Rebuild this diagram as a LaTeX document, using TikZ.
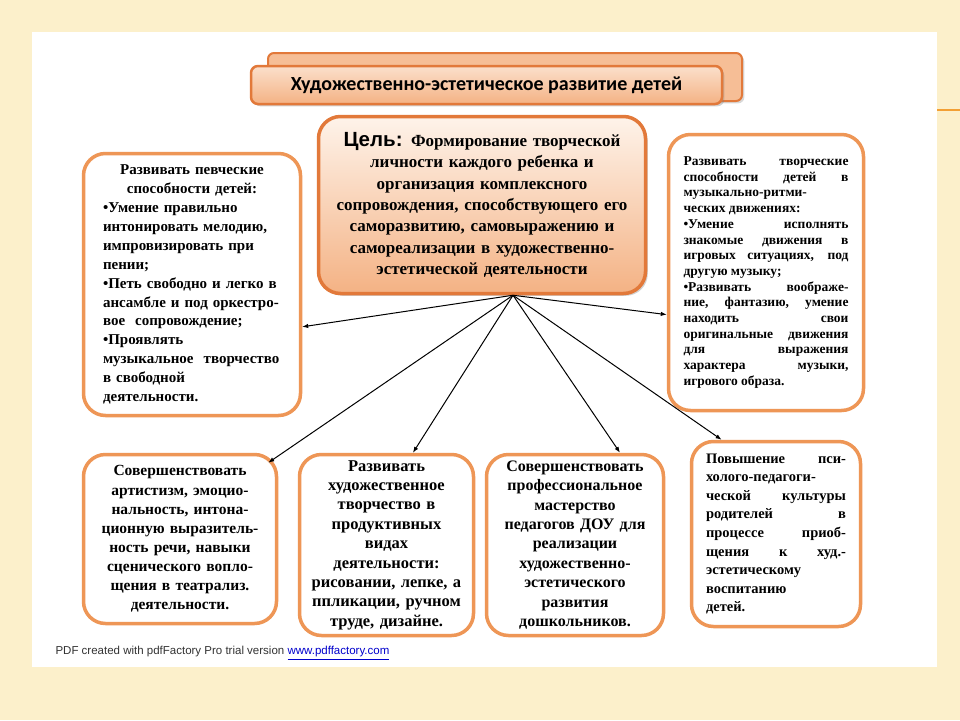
\documentclass[tikz,border=0pt]{standalone}
\usepackage{fontspec}
\setmainfont{Liberation Serif}
\newfontfamily\headfont{Carlito}
\newfontfamily\sansfont{Liberation Sans}
\usepackage{xcolor}
\usepackage{tikz}
\usetikzlibrary{positioning, arrows.meta, shadows}
\definecolor{slidebg}{RGB}{252,240,203}
\definecolor{boxorange}{RGB}{238,150,86}
\definecolor{darkorange}{RGB}{226,121,58}
\definecolor{peachlight}{RGB}{254,243,234}
\definecolor{peach}{RGB}{244,178,132}
\definecolor{linkblue}{RGB}{0,0,204}
\definecolor{lineorange}{RGB}{243,160,52}
\tikzstyle{tback}=[%
      rectangle, rounded corners=6pt, draw=darkorange, line width=2pt, fill=peach!85!white,
      drop shadow={opacity=.3}, minimum height=48pt, minimum width=474pt, inner sep=0pt
]
\tikzstyle{tb}=[%
      rectangle, rounded corners=7pt, draw=darkorange, line width=2.5pt,
      top color=peachlight!70!peach, bottom color=peach, drop shadow={opacity=.35},
      minimum height=38pt, minimum width=471pt, inner sep=0pt,
      font=\headfont\bfseries\fontsize{20}{24}\selectfont
]
\tikzstyle{gl}=[%
      rectangle, rounded corners=22pt, draw=darkorange, line width=3.5pt,
      top color=peachlight, bottom color=peach, drop shadow={opacity=.35},
      minimum height=177pt, minimum width=327pt, text width=320pt, align=center, inner sep=0pt,
      font=\bfseries\fontsize{17}{21.3}\selectfont
]
\tikzstyle{en}=[%
      rectangle, rounded corners=22pt, draw=boxorange, line width=3.5pt, fill=white,
      inner sep=0pt, font=\bfseries
]
\begin{document}
\begin{tikzpicture}[x=1pt, y=-1pt,
    -{Latex[length=6pt,width=4.5pt]}
  ]
    \useasboundingbox (0,0) rectangle (960,720);
    \fill[slidebg] (0,0) rectangle (960,720);
    \fill[white] (32,32) rectangle (937,667);
    \draw[-, lineorange, line width=2.5pt] (937,110) -- (960,110);

    \node[tback] (back)  at (505,77)   {};
    \node[tb]    (title) at (486.5,85) {Художественно-эстетическое развитие детей};
    \node[gl]    (goal)  at (482,205)  {%
      {\sansfont\fontsize{20.5}{21.3}\selectfont Цель:} Формирование творческой\\
      личности каждого ребенка и\\
      организация комплексного\\
      сопровождения, способствующего его\\
      саморазвитию, самовыражению и\\
      самореализации в художественно-\\
      эстетической деятельности};

    \node[en, minimum width=217pt, minimum height=262pt, text width=178pt, align=left,
          font=\bfseries\fontsize{15}{18.9}\selectfont] (lbox) at (192,284.5) {%
      {\centering Развивать певческие\\ способности детей:\par}
      •Умение правильно\\
      интонировать мелодию,\\
      импровизировать при\\
      пении;\\
      •Петь свободно и легко в\\
      ансамбле и под оркестро-\\
      вое\ \ сопровождение;\\
      •Проявлять\\
      музыкальное\ \ творчество\\
      в свободной\\
      деятельности.};

    \node[en, minimum width=195pt, minimum height=276pt, text width=165pt, align=justify,
          font=\bfseries\fontsize{13.5}{15.7}\selectfont] (rbox) at (766,272.5) {%
      Развивать творческие\linebreak
      способности детей в\linebreak
      музыкально-ритми-\\
      ческих движениях:\\
      •Умение исполнять\linebreak
      знакомые движения в\linebreak
      игровых ситуациях, под\linebreak
      другую музыку;\\
      •Развивать воображе-\linebreak
      ние, фантазию, умение\linebreak
      находить свои\linebreak
      оригинальные движения\linebreak
      для выражения\linebreak
      характера музыки,\linebreak
      игрового образа.};

    \node[en, minimum width=193pt, minimum height=169pt, text width=165pt, align=center,
          font=\bfseries\fontsize{15.5}{19.1}\selectfont] (b1) at (180,539) {%
      Совершенствовать\\
      артистизм, эмоцио-\\
      нальность, интона-\\
      ционную выразитель-\\
      ность речи, навыки\\
      сценического вопло-\\
      щения в театрализ.\\
      деятельности.};

    \node[en, minimum width=174pt, minimum height=181pt, text width=166pt, align=center,
          font=\bfseries\fontsize{16.5}{19.4}\selectfont] (b2) at (386.5,545) {%
      Развивать\\
      художественное\\
      творчество в\\
      продуктивных\\
      видах\\
      деятельности:\\
      рисовании, лепке, а\\
      ппликации, ручном\\
      труде, дизайне.};

    \node[en, minimum width=177pt, minimum height=181pt, text width=166pt, align=center,
          font=\bfseries\fontsize{16}{19.4}\selectfont] (b3) at (575,545) {%
      Совершенствовать\\
      профессиональное\\
      мастерство\\
      педагогов ДОУ для\\
      реализации\\
      художественно-\\
      эстетического\\
      развития\\
      дошкольников.};

    \node[en, minimum width=169pt, minimum height=185pt, text width=140pt, align=justify,
          font=\bfseries\fontsize{14.5}{18.6}\selectfont] (b4) at (776,534) {%
      Повышение пси-\linebreak
      холого-педагоги-\linebreak
      ческой культуры\linebreak
      родителей в\linebreak
      процессе приоб-\linebreak
      щения к худ.-\linebreak
      эстетическому\\
      воспитанию\\
      детей.};

    \node[anchor=west, text=black!80, font=\sansfont\fontsize{11.5}{13}\selectfont] (footer) at (52,653)
      {PDF created with pdfFactory Pro trial version \textcolor{linkblue}{\underline{www.pdffactory.com}}};

    \coordinate (hub) at ([xshift=31pt]goal.south);

    \path[line width=1pt]
          (hub) edge (lbox.-21.4)
          (hub) edge (rbox.203.3)
          (hub) edge ([shift={(-10,10)}]b1.north east)
          (hub) edge (b2.74.4)
          (hub) edge (b3.64.2)
          (hub) edge (b4.120.3)
    ;

\end{tikzpicture}
\end{document}
